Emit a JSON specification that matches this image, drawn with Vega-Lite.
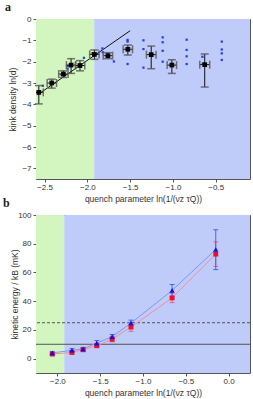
{
  "$schema": "https://vega.github.io/schema/vega-lite/v6.json",
  "padding": {"left": 2, "top": 0, "right": 5, "bottom": 2},
  "background": "white",
  "spacing": 36,
  "bounds": "flush",
  "config": {
    "view": {"stroke": "#555", "strokeWidth": 1},
    "axis": {
      "labelFont": "Liberation Sans", "labelFontSize": 8, "labelColor": "#333",
      "titleFont": "Liberation Sans", "titleFontSize": 8.5, "titleColor": "#333", "titleFontWeight": "normal",
      "grid": false, "domain": false, "tickColor": "#555", "tickSize": 3,
      "labelFlush": false, "labelBound": false, "labelOverlap": false
    },
    "title": {"font": "Liberation Serif", "fontSize": 12, "fontWeight": "bold", "color": "#222", "anchor": "start", "frame": "group", "offset": 1}
  },
  "datasets": {
    "regionsA": [{"r": "low", "x0": -2.6, "x1": -1.92}, {"r": "high", "x0": -1.92, "x1": -0.1}],
    "regionsB": [{"r": "low", "x0": -2.25, "x1": -1.92}, {"r": "high", "x0": -1.92, "x1": 0.25}],
    "kinks": [
      {"x": -2.567, "y": -3.44, "ylo": -3.98, "yhi": -3.12, "xlo": -2.62, "xhi": -2.515},
      {"x": -2.416, "y": -3.0, "ylo": -3.24, "yhi": -2.82, "xlo": -2.47, "xhi": -2.36},
      {"x": -2.28, "y": -2.58, "ylo": -2.74, "yhi": -2.43, "xlo": -2.335, "xhi": -2.225},
      {"x": -2.19, "y": -2.16, "ylo": -2.55, "yhi": -1.86, "xlo": -2.245, "xhi": -2.135},
      {"x": -2.086, "y": -2.18, "ylo": -2.43, "yhi": -1.95, "xlo": -2.14, "xhi": -2.03},
      {"x": -1.918, "y": -1.66, "ylo": -1.89, "yhi": -1.45, "xlo": -1.973, "xhi": -1.863},
      {"x": -1.76, "y": -1.72, "ylo": -1.86, "yhi": -1.58, "xlo": -1.815, "xhi": -1.705},
      {"x": -1.527, "y": -1.42, "ylo": -1.69, "yhi": -1.22, "xlo": -1.582, "xhi": -1.472},
      {"x": -1.254, "y": -1.67, "ylo": -2.33, "yhi": -1.27, "xlo": -1.31, "xhi": -1.198},
      {"x": -1.013, "y": -2.16, "ylo": -2.55, "yhi": -1.91, "xlo": -1.068, "xhi": -0.958},
      {"x": -0.629, "y": -2.14, "ylo": -3.19, "yhi": -1.64, "xlo": -0.687, "xhi": -0.571}
    ],
    "dots": [
      {"x": -2.52, "y": -3.13}, {"x": -2.41, "y": -3.05}, {"x": -2.3, "y": -2.62}, {"x": -2.23, "y": -2.2},
      {"x": -2.23, "y": -2.33}, {"x": -2.1, "y": -2.15}, {"x": -2.04, "y": -1.82}, {"x": -1.94, "y": -1.6},
      {"x": -1.825, "y": -1.38}, {"x": -1.82, "y": -1.56}, {"x": -1.69, "y": -1.99},
      {"x": -1.53, "y": -0.98}, {"x": -1.53, "y": -1.06}, {"x": -1.53, "y": -2.11},
      {"x": -1.345, "y": -1.0}, {"x": -1.345, "y": -1.41}, {"x": -1.345, "y": -2.28},
      {"x": -1.12, "y": -0.86}, {"x": -1.12, "y": -1.09}, {"x": -1.12, "y": -1.49}, {"x": -1.12, "y": -2.0},
      {"x": -0.84, "y": -0.97}, {"x": -0.84, "y": -1.45}, {"x": -0.84, "y": -1.75}, {"x": -0.84, "y": -2.11},
      {"x": -0.656, "y": -1.77}, {"x": -0.65, "y": -2.1},
      {"x": -0.43, "y": -1.06}, {"x": -0.43, "y": -1.43}, {"x": -0.43, "y": -1.61}, {"x": -0.43, "y": -1.92}
    ],
    "fit": [{"x": -2.58, "y": -3.55}, {"x": -1.5, "y": -0.55}],
    "energy": [
      {"x": -2.06, "blue": 4.0, "blo": 3.0, "bhi": 5.0, "red": 3.2, "rlo": 2.4, "rhi": 4.0},
      {"x": -1.83, "blue": 5.8, "blo": 4.6, "bhi": 7.0, "red": 4.3, "rlo": 3.3, "rhi": 5.3},
      {"x": -1.7, "blue": 6.8, "blo": 5.8, "bhi": 7.8, "red": 6.2, "rlo": 5.2, "rhi": 7.2},
      {"x": -1.54, "blue": 10.8, "blo": 8.8, "bhi": 12.6, "red": 9.0, "rlo": 7.8, "rhi": 10.2},
      {"x": -1.36, "blue": 15.3, "blo": 13.8, "bhi": 16.8, "red": 13.5, "rlo": 11.7, "rhi": 15.3},
      {"x": -1.14, "blue": 24.8, "blo": 22.8, "bhi": 26.8, "red": 22.0, "rlo": 19.0, "rhi": 25.0},
      {"x": -0.66, "blue": 47.5, "blo": 43.0, "bhi": 51.6, "red": 42.3, "rlo": 39.0, "rhi": 45.4},
      {"x": -0.15, "blue": 76.0, "blo": 62.0, "bhi": 89.7, "red": 72.8, "rlo": 64.2, "rhi": 81.3}
    ],
    "hlines": [{"level": 25, "kind": "dashed"}, {"level": 10, "kind": "solid"}]
  },
  "vconcat": [
    {
      "width": 214, "height": 160,
      "title": {"text": "a", "dx": -31},
      "resolve": {"axis": {"y": "independent"}},
      "layer": [
        {
          "data": {"name": "regionsA"},
          "mark": {"type": "rect"},
          "encoding": {
            "x": {"field": "x0", "type": "quantitative", "scale": {"domain": [-2.6, -0.1], "nice": false, "zero": false},
                  "axis": {"values": [-2.5, -2.0, -1.5, -1.0, -0.5], "format": ".1f", "labelPadding": 1, "titlePadding": 3,
                           "title": "quench parameter ln(1/(νz τQ))"}},
            "x2": {"field": "x1"},
            "y": {"datum": -7.5, "type": "quantitative", "scale": {"domain": [-7.5, 0], "nice": false, "zero": false},
                  "axis": {"orient": "left", "values": [-7, -5, -3, -1], "format": "d", "labelPadding": 2, "titlePadding": 4, "title": "kink density ln(d)"}},
            "y2": {"datum": 0},
            "color": {"field": "r", "type": "nominal", "scale": {"domain": ["low", "high"], "range": ["#d3f6c0", "#bfcbf8"]}, "legend": null}
          }
        },
        {
          "data": {"name": "fit"},
          "mark": {"type": "point", "opacity": 0},
          "encoding": {
            "x": {"field": "x", "type": "quantitative"},
            "y": {"field": "y", "type": "quantitative",
                  "axis": {"orient": "left", "values": [-6, -4, -2, 0], "format": "d", "labelPadding": 2, "title": null}}
          }
        },
        {
          "mark": {"type": "rule", "color": "#777", "strokeWidth": 1},
          "encoding": {"x": {"datum": -1.92, "type": "quantitative"}}
        },
        {
          "data": {"name": "fit"},
          "mark": {"type": "line", "color": "#111", "strokeWidth": 1, "clip": true},
          "encoding": {
            "x": {"field": "x", "type": "quantitative"},
            "y": {"field": "y", "type": "quantitative", "axis": null}
          }
        },
        {
          "data": {"name": "dots"},
          "mark": {"type": "square", "color": "#1f3cff", "size": 5, "opacity": 1},
          "encoding": {"x": {"field": "x", "type": "quantitative"}, "y": {"field": "y", "type": "quantitative", "axis": null}}
        },
        {
          "data": {"name": "kinks"},
          "layer": [
            {"mark": {"type": "rule", "color": "#111", "strokeWidth": 1, "clip": true},
             "encoding": {"x": {"field": "x", "type": "quantitative"}, "y": {"field": "ylo", "type": "quantitative", "axis": null}, "y2": {"field": "yhi"}}},
            {"mark": {"type": "rule", "color": "#111", "strokeWidth": 1, "clip": true},
             "encoding": {"x": {"field": "xlo", "type": "quantitative"}, "x2": {"field": "xhi"}, "y": {"field": "y", "type": "quantitative", "axis": null}}},
            {"mark": {"type": "tick", "orient": "horizontal", "size": 8, "thickness": 1.5, "color": "#555", "opacity": 0.8},
             "encoding": {"x": {"field": "x", "type": "quantitative"}, "y": {"field": "ylo", "type": "quantitative", "axis": null}}},
            {"mark": {"type": "tick", "orient": "horizontal", "size": 8, "thickness": 1.5, "color": "#555", "opacity": 0.8},
             "encoding": {"x": {"field": "x", "type": "quantitative"}, "y": {"field": "yhi", "type": "quantitative", "axis": null}}},
            {"mark": {"type": "tick", "orient": "vertical", "size": 8, "thickness": 1.5, "color": "#555", "opacity": 0.8, "clip": true},
             "encoding": {"x": {"field": "xlo", "type": "quantitative"}, "y": {"field": "y", "type": "quantitative", "axis": null}}},
            {"mark": {"type": "tick", "orient": "vertical", "size": 8, "thickness": 1.5, "color": "#555", "opacity": 0.8},
             "encoding": {"x": {"field": "xhi", "type": "quantitative"}, "y": {"field": "y", "type": "quantitative", "axis": null}}},
            {"mark": {"type": "square", "color": "#000", "size": 22, "opacity": 1},
             "encoding": {"x": {"field": "x", "type": "quantitative"}, "y": {"field": "y", "type": "quantitative", "axis": null}}}
          ]
        }
      ]
    },
    {
      "width": 214, "height": 158,
      "title": {"text": "b", "dx": -33},
      "resolve": {"axis": {"y": "independent"}},
      "layer": [
        {
          "data": {"name": "regionsB"},
          "mark": {"type": "rect"},
          "encoding": {
            "x": {"field": "x0", "type": "quantitative", "scale": {"domain": [-2.25, 0.25], "nice": false, "zero": false},
                  "axis": {"values": [-2.0, -1.5, -1.0, -0.5, 0.0], "format": ".1f", "labelPadding": 1, "titlePadding": 3,
                           "title": "quench parameter ln(1/(νz τQ))"}},
            "x2": {"field": "x1"},
            "y": {"datum": -10, "type": "quantitative", "scale": {"domain": [-10, 100], "nice": false, "zero": false},
                  "axis": {"orient": "left", "values": [0, 40, 80], "format": "d", "labelPadding": 2, "titlePadding": 3, "title": "kinetic energy / kB  (mK)"}},
            "y2": {"datum": 100},
            "color": {"field": "r", "type": "nominal", "scale": {"domain": ["low", "high"], "range": ["#d3f6c0", "#bfcbf8"]}, "legend": null}
          }
        },
        {
          "data": {"name": "hlines"},
          "mark": {"type": "point", "opacity": 0},
          "encoding": {
            "y": {"field": "level", "type": "quantitative",
                  "axis": {"orient": "left", "values": [20, 60, 100], "format": "d", "labelPadding": 2, "title": null}}
          }
        },
        {
          "mark": {"type": "rule", "color": "#777", "strokeWidth": 1},
          "encoding": {"x": {"datum": -1.92, "type": "quantitative"}}
        },
        {
          "data": {"name": "hlines"},
          "mark": {"type": "rule", "color": "#555", "strokeWidth": 1},
          "encoding": {
            "y": {"field": "level", "type": "quantitative", "axis": null},
            "strokeDash": {"field": "kind", "type": "nominal", "scale": {"domain": ["dashed", "solid"], "range": [[3, 2], [1, 0]]}, "legend": null}
          }
        },
        {
          "data": {"name": "energy"},
          "layer": [
            {"mark": {"type": "line", "color": "#f0909f", "strokeWidth": 1},
             "encoding": {"x": {"field": "x", "type": "quantitative"}, "y": {"field": "red", "type": "quantitative", "axis": null}}},
            {"mark": {"type": "line", "color": "#7f97f7", "strokeWidth": 1},
             "encoding": {"x": {"field": "x", "type": "quantitative"}, "y": {"field": "blue", "type": "quantitative", "axis": null}}},
            {"mark": {"type": "rule", "color": "#ee4466", "strokeWidth": 1, "opacity": 0.7},
             "encoding": {"x": {"field": "x", "type": "quantitative"}, "y": {"field": "rlo", "type": "quantitative", "axis": null}, "y2": {"field": "rhi"}}},
            {"mark": {"type": "tick", "orient": "horizontal", "size": 5, "thickness": 1, "color": "#ee4466", "opacity": 0.7},
             "encoding": {"x": {"field": "x", "type": "quantitative"}, "y": {"field": "rlo", "type": "quantitative", "axis": null}}},
            {"mark": {"type": "tick", "orient": "horizontal", "size": 5, "thickness": 1, "color": "#ee4466", "opacity": 0.7},
             "encoding": {"x": {"field": "x", "type": "quantitative"}, "y": {"field": "rhi", "type": "quantitative", "axis": null}}},
            {"mark": {"type": "rule", "color": "#2f4cf0", "strokeWidth": 1, "opacity": 0.8},
             "encoding": {"x": {"field": "x", "type": "quantitative"}, "y": {"field": "blo", "type": "quantitative", "axis": null}, "y2": {"field": "bhi"}}},
            {"mark": {"type": "tick", "orient": "horizontal", "size": 5, "thickness": 1, "color": "#2f4cf0", "opacity": 0.8},
             "encoding": {"x": {"field": "x", "type": "quantitative"}, "y": {"field": "blo", "type": "quantitative", "axis": null}}},
            {"mark": {"type": "tick", "orient": "horizontal", "size": 5, "thickness": 1, "color": "#2f4cf0", "opacity": 0.8},
             "encoding": {"x": {"field": "x", "type": "quantitative"}, "y": {"field": "bhi", "type": "quantitative", "axis": null}}},
            {"mark": {"type": "square", "color": "#e8102a", "size": 24, "opacity": 1},
             "encoding": {"x": {"field": "x", "type": "quantitative"}, "y": {"field": "red", "type": "quantitative", "axis": null}}},
            {"mark": {"type": "point", "shape": "triangle-up", "filled": true, "color": "#1010e8", "size": 28, "opacity": 1},
             "encoding": {"x": {"field": "x", "type": "quantitative"}, "y": {"field": "blue", "type": "quantitative", "axis": null}}}
          ]
        }
      ]
    }
  ]
}
